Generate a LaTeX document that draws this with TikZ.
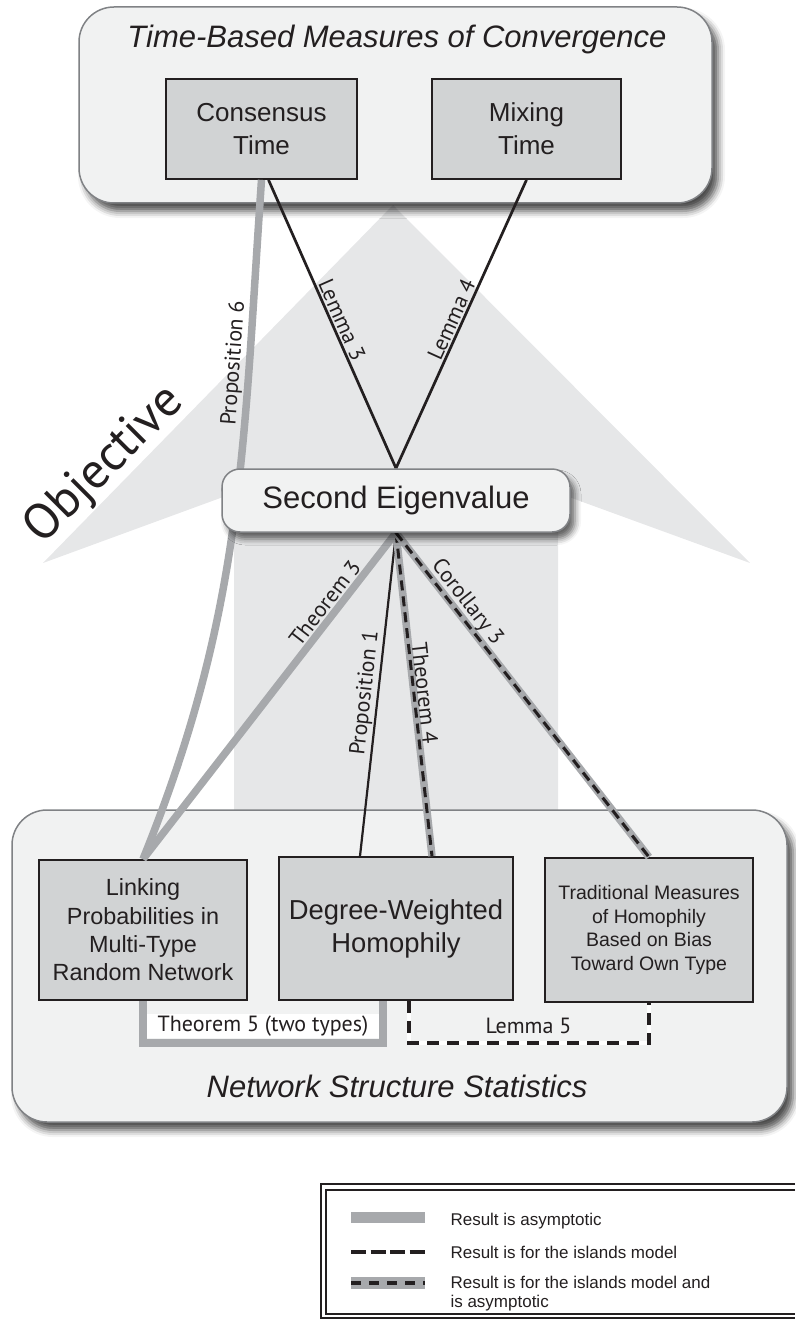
\documentclass[tikz,border=0pt]{standalone}
\usepackage{fontspec}
\setmainfont{Liberation Sans}
\newfontfamily\lblfont{PT Sans}
\usetikzlibrary{shapes,arrows,positioning,shadows.blur}

\definecolor{ink}{RGB}{35,31,32}
\definecolor{arrowgray}{RGB}{230,231,232}
\definecolor{panelgray}{RGB}{241,242,242}
\definecolor{boxgray}{RGB}{209,211,212}
\definecolor{linegray}{RGB}{167,169,172}
\definecolor{edgegray}{RGB}{128,130,133}

\pgfdeclarelayer{front}
\pgfsetlayers{main,front}

\tikzset{
  panel/.style={draw=edgegray, line width=1.5pt, fill=panelgray, rounded corners=35pt,
    blur shadow={shadow xshift=6pt, shadow yshift=-8pt, shadow blur radius=7pt, shadow opacity=70}},
  ptitle/.style={anchor=base, text=ink, font=\itshape\fontsize{31}{31}\selectfont},
  tbox/.style={draw=ink, line width=1.8pt, fill=boxgray, text=ink, align=center, inner sep=0pt},
  lbltext/.style={text=ink, font=\lblfont\fontsize{22}{22}\selectfont},
  lbl/.style={lbltext, sloped, above, inner sep=1.5pt},
  proof/.style={draw=ink, line width=2.7pt},
  asym/.style={draw=linegray, line width=7.5pt},
  island/.style={draw=ink, line width=4pt, dash pattern=on 12pt off 8pt,
    preaction={draw=white, line width=4pt, solid}},
  islasym/.style={draw=ink, line width=3pt, dash pattern=on 10pt off 6pt,
    preaction={draw=linegray, line width=7.5pt, solid}},
  legtext/.style={anchor=base west, text=ink, font=\fontsize{17}{19.5}\selectfont}
}

\begin{document}
\begin{tikzpicture}[x=1pt, y=-1pt]
\useasboundingbox (0,0) rectangle (795,1321);

% the big arrow behind everything
\path[fill=arrowgray] (393,205) -- (750,563) -- (558,493) -- (558,815) -- (234,815) -- (234,493) -- (43,563) -- cycle;
\node (objective) at (105,466) [rotate=45, text=ink, font=\lblfont\fontsize{50}{50}\selectfont] {Objective};

\node (toppanel) at (395.5,105) [panel, minimum width=633pt, minimum height=196pt] {};
\node (toptitle) at (397,48) [ptitle] {Time-Based Measures of Convergence};
\node (botpanel) at (399.5,966) [panel, minimum width=775pt, minimum height=312pt] {};
\node (bottitle) at (397,1097) [ptitle] {Network Structure Statistics};

\node (cons) at (261.5,129) [tbox, minimum width=191pt, minimum height=100pt, font=\fontsize{26}{33}\selectfont] {Consensus\\Time};
\node (mix) at (526.5,129) [tbox, minimum width=189pt, minimum height=100pt, font=\fontsize{26}{33}\selectfont] {Mixing\\Time};

\node (link) at (143,930) [tbox, minimum width=208pt, minimum height=140pt, font=\fontsize{23.4}{28.3}\selectfont] {Linking\\Probabilities in\\Multi-Type\\Random Network};
\node (deg) at (396,928.5) [tbox, minimum width=234pt, minimum height=143pt, font=\fontsize{27.4}{33}\selectfont] {Degree-Weighted\\Homophily};
\node (trad) at (649,930) [tbox, minimum width=208pt, minimum height=144pt, font=\fontsize{19.5}{23.5}\selectfont] {Traditional Measures\\of Homophily\\Based on Bias\\Toward Own Type};

\begin{pgfonlayer}{front}
\node (se) at (396,500.5) [draw=edgegray, line width=1.5pt, fill=panelgray, rounded corners=18pt,
  minimum width=348pt, minimum height=63pt, text=ink, font=\fontsize{31}{31}\selectfont,
  blur shadow={shadow xshift=5pt, shadow yshift=-7pt, shadow blur radius=6pt, shadow opacity=60}] {Second Eigenvalue};
\end{pgfonlayer}

\draw[asym] (link.north) .. controls (244,610) and (243,448) .. node[lbl, pos=0.75] {Proposition 6} (cons.south);
\draw[proof] ([xshift=7pt]cons.south) to node[lbl] {Lemma 3} (se.north);
\draw[proof] (se.north) to node[lbl] {Lemma 4} (mix.south);

\draw[asym] (link.north) to node[lbl, pos=0.76] {Theorem 3} (se.south);
\draw[proof, line width=2.2pt] ([xshift=-36pt]deg.north) to node[lbl] {Proposition 1} (se.south);
\draw[islasym] (se.south) to node[lbl] {Theorem 4} ([xshift=36pt]deg.north);
\draw[islasym] (se.south) to node[lbl, pos=0.24] {Corollary 3} (trad.north);

\draw[asym, line join=miter] (link.south) -- ++(0,42) -| ([xshift=-13pt]deg.south);
\node (thm5) at (263,1026) [lbltext, fill=white, minimum width=232pt, minimum height=24pt, inner sep=0pt] {Theorem 5 (two types)};
\draw[island, line join=miter] ([xshift=13pt]deg.south) -- ++(0,42) -| (trad.south);
\node (lem5) at (528.5,1026) [lbltext] {Lemma 5};

% legend
\draw[ink, line width=1.5pt] (795,1184) -| (321,1318) -- (795,1318);
\draw[ink, line width=1.5pt] (795,1190) -| (326,1314) -- (795,1314);
\coordinate (asymA) at (351,1217.5);
\coordinate (asymB) at (425,1217.5);
\coordinate (islA) at (351,1252);
\coordinate (islB) at (425,1252);
\coordinate (bothA) at (351,1283);
\coordinate (bothB) at (425,1283);
\draw[draw=linegray, line width=11pt] (asymA) -- (asymB);
\draw[draw=ink, line width=4pt, dash pattern=on 15pt off 4.5pt] (islA) -- (islB);
\draw[draw=linegray, line width=12pt] (bothA) -- (bothB);
\draw[draw=ink, line width=3.3pt, dash pattern=on 10pt off 8pt] (bothA) -- (bothB);
\node (legasym) at (447,1225) [legtext] {Result is asymptotic};
\node (legisl) at (447,1258) [legtext] {Result is for the islands model};
\node (legboth) at (447,1288) [legtext] {Result is for the islands model and};
\node (legboth2) at (447,1307) [legtext] {is asymptotic};
\end{tikzpicture}
\end{document}
